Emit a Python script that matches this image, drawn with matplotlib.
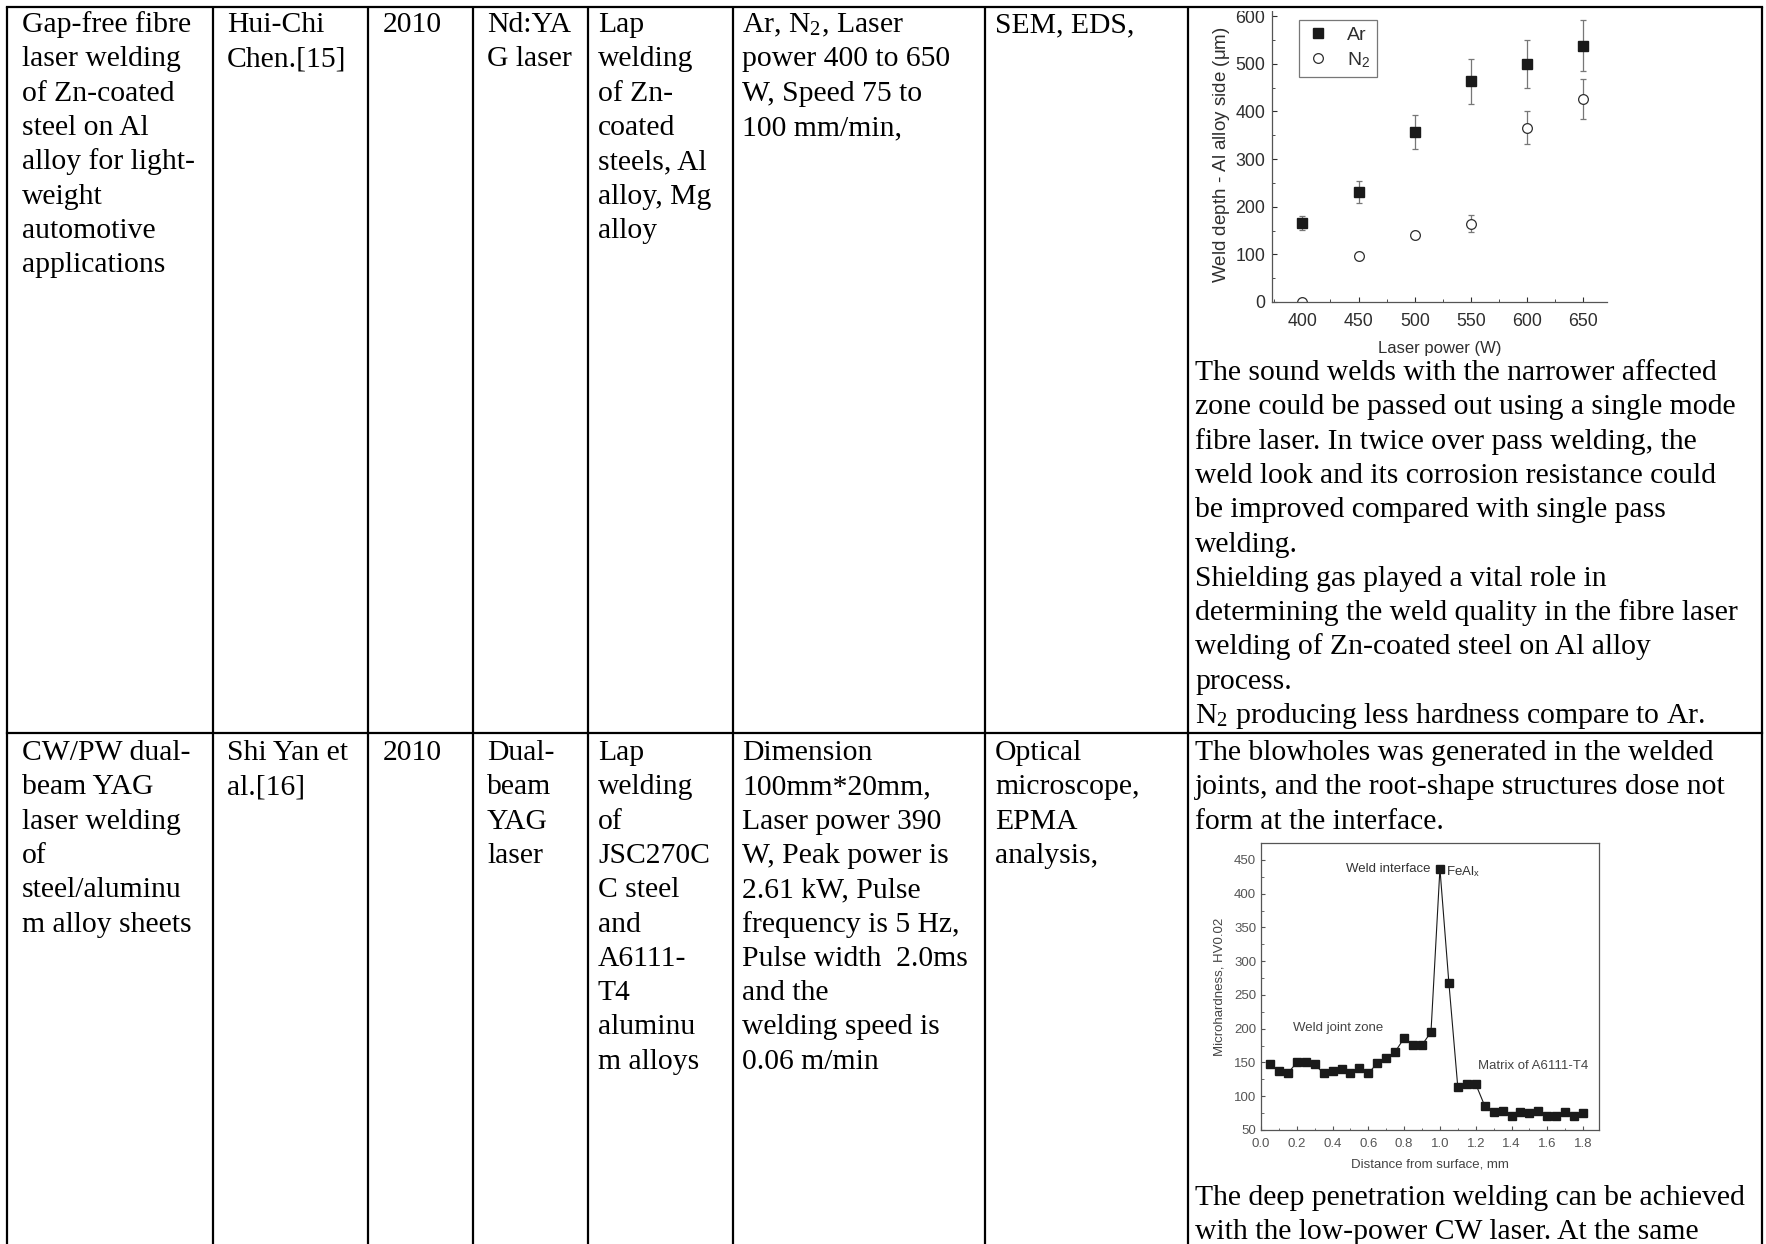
import matplotlib
matplotlib.use("Agg")
import matplotlib.pyplot as plt
from matplotlib.lines import Line2D
from matplotlib.patches import Rectangle
from matplotlib.ticker import MultipleLocator

plt.rcParams['mathtext.fontset'] = 'stix'

W, H = 1766, 1244
SERIF = 'Liberation Serif'
SANS = 'Liberation Sans'

# table grid (pixel coordinates)
col_edges = [7, 213, 368, 473, 588, 733, 985, 1188, 1762]
text_x = [22, 227, 383, 487, 598, 742, 995, 1195]
row_top = [7, 733]
line_h = 34.3

row1 = [
    ["Gap-free fibre", "laser welding", "of Zn-coated", "steel on Al",
     "alloy for light-", "weight", "automotive", "applications"],
    ["Hui-Chi", "Chen.[15]"],
    ["2010"],
    ["Nd:YA", "G laser"],
    ["Lap", "welding", "of Zn-", "coated", "steels, Al", "alloy, Mg", "alloy"],
    [r"Ar, N$_\mathregular{2}$, Laser", "power 400 to 650", "W, Speed 75 to", "100 mm/min,"],
    ["SEM, EDS,"],
]
row1_notes = [
    "The sound welds with the narrower affected",
    "zone could be passed out using a single mode",
    "fibre laser. In twice over pass welding, the",
    "weld look and its corrosion resistance could",
    "be improved compared with single pass",
    "welding.",
    "Shielding gas played a vital role in",
    "determining the weld quality in the fibre laser",
    "welding of Zn-coated steel on Al alloy",
    "process.",
    r"N$_\mathregular{2}$ producing less hardness compare to Ar.",
]

row2 = [
    ["CW/PW dual-", "beam YAG", "laser welding", "of", "steel/aluminu", "m alloy sheets"],
    ["Shi Yan et", "al.[16]"],
    ["2010"],
    ["Dual-", "beam", "YAG", "laser"],
    ["Lap", "welding", "of", "JSC270C", "C steel", "and", "A6111-", "T4",
     "aluminu", "m alloys"],
    ["Dimension", "100mm*20mm,", "Laser power 390", "W, Peak power is",
     "2.61 kW, Pulse", "frequency is 5 Hz,", "Pulse width  2.0ms", "and the",
     "welding speed is", "0.06 m/min"],
    ["Optical", "microscope,", "EPMA", "analysis,"],
]
row2_notes_top = [
    "The blowholes was generated in the welded",
    "joints, and the root-shape structures dose not",
    "form at the interface.",
]
row2_notes_bottom = [
    "The deep penetration welding can be achieved",
    "with the low-power CW laser. At the same",
]

# weld depth vs laser power
power = [400, 450, 500, 550, 600, 650]
ar_depth = [166, 231, 357, 463, 499, 538]
ar_err = [15, 23, 36, 48, 50, 53]
n2_depth = [0, 96, 140, 164, 366, 426]
n2_err = [0, 8, 8, 18, 35, 42]

# microhardness profile
distance = [0.05, 0.10, 0.15, 0.20, 0.25, 0.30, 0.35, 0.40, 0.45, 0.50, 0.55, 0.60,
            0.65, 0.70, 0.75, 0.80, 0.85, 0.90, 0.95, 1.00, 1.05, 1.10, 1.15, 1.20,
            1.25, 1.30, 1.35, 1.40, 1.45, 1.50, 1.55, 1.60, 1.65, 1.70, 1.75, 1.80]
hardness = [147, 137, 134, 150, 150, 147, 134, 138, 140, 134, 142, 134,
            149, 157, 166, 186, 176, 176, 195, 437, 268, 113, 118, 118,
            86, 76, 78, 70, 76, 75, 78, 70, 70, 76, 70, 75]

fig = plt.figure(figsize=(W / 100, H / 100), dpi=100)
base = fig.add_axes([0, 0, 1, 1])
base.set_xlim(0, W)
base.set_ylim(H, 0)
base.axis('off')


def put_lines(x, y0, lines):
    for i, s in enumerate(lines):
        base.text(x, y0 + i * line_h, s, family=SERIF, fontsize=21.3,
                  va='baseline', ha='left', color='black')


for x, lines in zip(text_x, row1):
    put_lines(x, 32, lines)
put_lines(text_x[7], 380, row1_notes)

for x, lines in zip(text_x, row2):
    put_lines(x, 760, lines)
put_lines(text_x[7], 760, row2_notes_top)
put_lines(text_x[7], 1205, row2_notes_bottom)


def px_axes(left, top, right, bottom):
    return fig.add_axes([left / W, 1 - bottom / H, (right - left) / W, (bottom - top) / H])


ink = '#1a1a1a'
soft = '#2e2e2e'

# --- weld depth chart ---
ax1 = px_axes(1272, 8, 1607, 302)
ax1.errorbar(power, ar_depth, yerr=ar_err, fmt='s', color=ink, ms=7,
             ecolor='#777777', elinewidth=0.9, capsize=2.5, capthick=0.9)
ax1.errorbar(power, n2_depth, yerr=n2_err, fmt='o', mfc='white', mec=soft, mew=0.9,
             ms=7, ecolor='#777777', elinewidth=0.9, capsize=2.5, capthick=0.9)
ax1.set_xlim(373, 671)
ax1.set_ylim(0, 617)
ax1.set_xticks(power)
ax1.set_yticks([0, 100, 200, 300, 400, 500, 600])
ax1.xaxis.set_minor_locator(MultipleLocator(25))
ax1.yaxis.set_minor_locator(MultipleLocator(50))
ax1.tick_params(direction='in', which='both', labelsize=12.8, colors=soft, length=3.5)
ax1.tick_params(axis='x', pad=8)
ax1.tick_params(axis='y', pad=5)
ax1.tick_params(which='minor', length=2)
ax1.spines['top'].set_visible(False)
ax1.spines['right'].set_visible(False)
for s in ('left', 'bottom'):
    ax1.spines[s].set_color('#555555')
    ax1.spines[s].set_linewidth(0.9)
for lab in ax1.get_xticklabels() + ax1.get_yticklabels():
    lab.set_family(SANS)
ax1.set_xlabel('Laser power (W)', family=SANS, fontsize=12, color=soft, labelpad=8)
ax1.set_ylabel(r'Weld depth - Al alloy side ($\mathregular{\mu}$m)', family=SANS,
               fontsize=13.5, color=soft, labelpad=2)
ax1.patch.set_alpha(0)

legend_handles = [
    Line2D([], [], ls='none', marker='s', color=ink, ms=7),
    Line2D([], [], ls='none', marker='o', mfc='white', mec=soft, mew=0.9, ms=7),
]
leg = ax1.legend(legend_handles, ['Ar', r'N$_\mathregular{2}$'], loc='upper left',
                 bbox_to_anchor=(0.081, 0.96), borderaxespad=0,
                 fancybox=False, edgecolor='#777777', framealpha=1,
                 prop={'family': SANS, 'size': 14}, handletextpad=0.9,
                 labelspacing=0.3, borderpad=0.35, handlelength=1.2)
leg.get_frame().set_linewidth(0.9)
for t in leg.get_texts():
    t.set_color(soft)

# --- microhardness chart ---
ax2 = px_axes(1261, 843, 1599, 1130)
ax2.plot(distance, hardness, '-s', color=ink, lw=0.8, ms=5.3)
ax2.set_xlim(0, 1.889)
ax2.set_ylim(50, 475)
ax2.set_xticks([0.0, 0.2, 0.4, 0.6, 0.8, 1.0, 1.2, 1.4, 1.6, 1.8])
ax2.set_yticks([50, 100, 150, 200, 250, 300, 350, 400, 450])
ax2.xaxis.set_minor_locator(MultipleLocator(0.1))
ax2.yaxis.set_minor_locator(MultipleLocator(25))
ax2.tick_params(direction='in', which='both', labelsize=9.5, colors='#555555', length=3)
ax2.tick_params(axis='x', pad=6)
ax2.tick_params(which='minor', length=1.8)
for s in ax2.spines.values():
    s.set_color('#555555')
    s.set_linewidth(0.9)
for lab in ax2.get_xticklabels() + ax2.get_yticklabels():
    lab.set_family(SANS)
ax2.set_xlabel('Distance from surface, mm', family=SANS, fontsize=9.5, color='#444444',
               labelpad=6)
ax2.set_ylabel('Microhardness, HV0.02', family=SANS, fontsize=9.5, color='#444444',
               labelpad=6)
ax2.text(0.945, 437, 'Weld interface', family=SANS, fontsize=9.5, color='#333333',
         ha='right', va='center')
ax2.text(1.035, 432, r'FeAl$_\mathregular{x}$', family=SANS, fontsize=9.5, color='#333333',
         ha='left', va='center')
ax2.text(0.18, 201, 'Weld joint zone', family=SANS, fontsize=9.5, color='#444444',
         ha='left', va='center')
ax2.text(1.21, 145, 'Matrix of A6111-T4', family=SANS, fontsize=9.5, color='#444444',
         ha='left', va='center')

# the embedded chart is trimmed at the top edge of its cell
fig.add_artist(Rectangle((col_edges[7] / W, 1 - 11 / H), (col_edges[8] - col_edges[7]) / W,
                         11 / H, transform=fig.transFigure, color='white', lw=0))

# grid lines drawn last so they sit on top of the embedded charts
lw = 1.6
for x in col_edges:
    fig.add_artist(Line2D([x / W, x / W], [1 - row_top[0] / H, 0], color='black', lw=lw,
                          solid_capstyle='butt'))
for y in row_top:
    fig.add_artist(Line2D([col_edges[0] / W, col_edges[-1] / W], [1 - y / H, 1 - y / H],
                          color='black', lw=lw, solid_capstyle='projecting'))

fig.savefig('out.png', dpi=100)
